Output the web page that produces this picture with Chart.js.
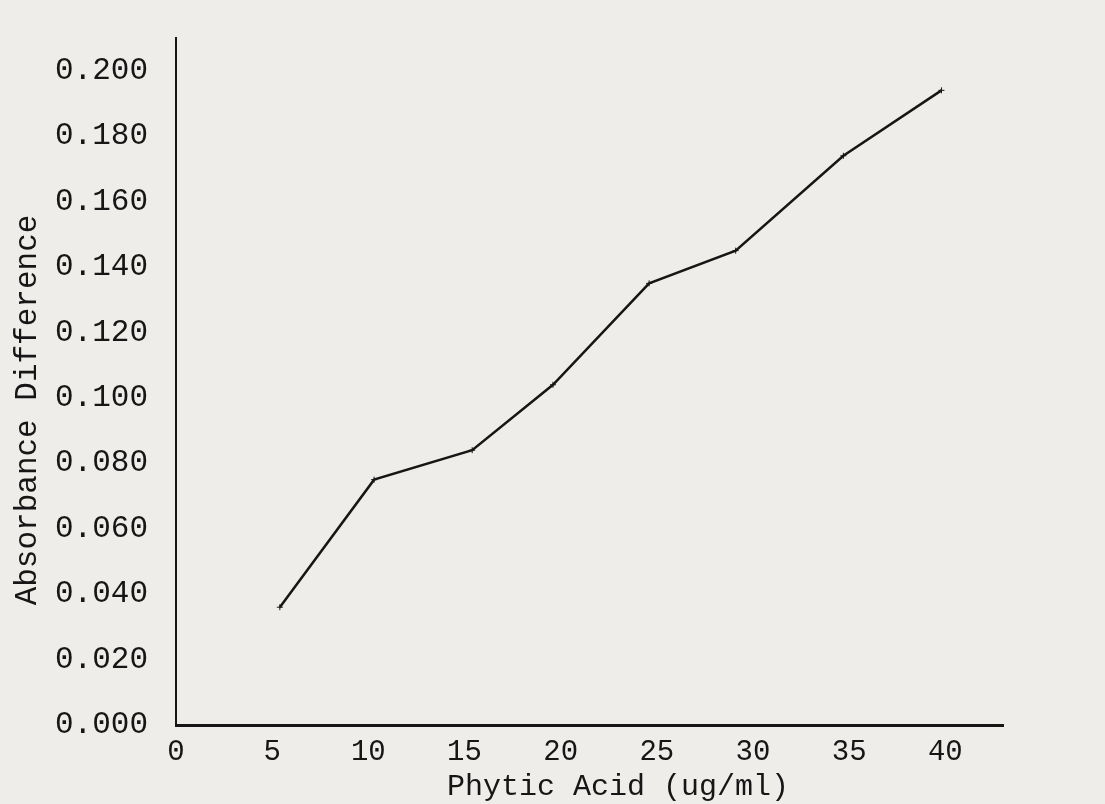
<!DOCTYPE html>
<html>
<head>
    <meta http-equiv="Content-Type" content="text/html; charset=UTF-8" />
    <script src="https://cdn.jsdelivr.net/npm/chart.js"></script>
    <title>Phytic Acid Standard Curve</title>
<style>
    body { margin:0; background-color:#efedea; }
    #wrap { width:1105px; height:804px; }
</style>
</head>
<body>
<div id="wrap">
    <canvas id="myLineChart" width="1105" height="804"></canvas>
</div>

<script>
    // values
    var phyticAcid = [5.4, 10.3, 15.4, 19.6, 24.6, 29.1, 34.7, 39.8]
    var absorbance = [0.036, 0.075, 0.084, 0.104, 0.135, 0.145, 0.174, 0.194]
    var xTitle = 'Phytic Acid (ug/ml)'
    var yTitle = 'Absorbance Difference'

    var ink = '#161616'
    var mono = '"Liberation Mono", "DejaVu Sans Mono", monospace'

    var points = []
    for (var i = 0; i < phyticAcid.length; i++) {
        points.push({x: phyticAcid[i], y: absorbance[i]})
    }

    // axis titles sit a bit off-centre in the original, so draw them here
    var axisTitles = {
        id: 'axisTitles',
        afterDraw: function(chart) {
            var ctx = chart.ctx
            ctx.save()
            ctx.fillStyle = ink
            ctx.font = '30px ' + mono
            ctx.textAlign = 'center'
            ctx.textBaseline = 'middle'
            ctx.fillText(xTitle, 618, 787)
            ctx.translate(28, 410)
            ctx.rotate(-Math.PI / 2)
            ctx.font = '31px ' + mono
            ctx.fillText(yTitle, 0, 0)
            ctx.restore()
        }
    }

    var ctx = document.getElementById('myLineChart').getContext('2d')
    var chart = new Chart(ctx, {
        type: 'line',
        data: {
            datasets: [{
                data: points,
                borderColor: ink,
                borderWidth: 2.5,
                fill: false,
                tension: 0,
                pointStyle: 'cross',
                pointRadius: 3,
                pointBorderWidth: 1,
                pointBorderColor: ink,
            }]
        },
        options: {
            responsive: false,
            animation: false,
            layout: { padding: { top: 38, right: 102, left: 0, bottom: 0 } },
            plugins: { legend: { display: false }, tooltip: { enabled: false } },
            scales: {
                x: {
                    type: 'linear',
                    min: 0,
                    max: 43,
                    grid: { display: false, drawTicks: false },
                    border: { display: true, color: ink, width: 3 },
                    ticks: {
                        stepSize: 5,
                        includeBounds: false,
                        padding: 10,
                        color: ink,
                        font: { family: mono, size: 29 },
                        maxRotation: 0,
                    },
                    afterFit: function(scale) { scale.height = 79 },
                },
                y: {
                    min: 0,
                    max: 0.21,
                    grid: { display: false, drawTicks: false },
                    border: { display: true, color: ink, width: 2 },
                    ticks: {
                        stepSize: 0.02,
                        includeBounds: false,
                        padding: 28,
                        color: ink,
                        font: { family: mono, size: 31 },
                        callback: function(v) { return v.toFixed(3) },
                    },
                    afterFit: function(scale) {
                        scale.width = 176
                        scale.paddingTop = 0
                        scale.paddingBottom = 0
                    },
                },
            },
        },
        plugins: [axisTitles],
    })
</script>
</body>
</html>
